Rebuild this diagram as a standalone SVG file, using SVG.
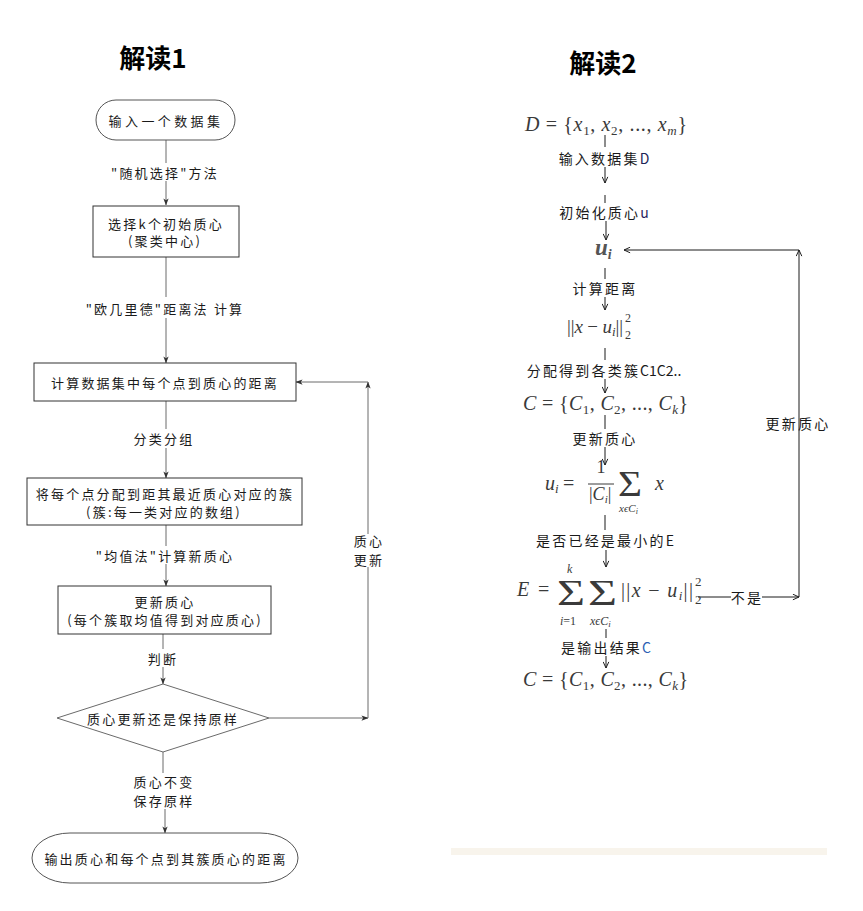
<svg xmlns="http://www.w3.org/2000/svg" width="863" height="911" viewBox="0 0 863 911">
<style>
.t{font-family:"Noto Sans CJK SC","Liberation Sans",sans-serif;font-size:13px;letter-spacing:2.2px;fill:#1a1a1a;text-anchor:middle;dominant-baseline:central}
.r{font-family:"Noto Sans CJK SC","Liberation Sans",sans-serif;font-size:14px;letter-spacing:2.2px;fill:#1a1a1a;text-anchor:middle;dominant-baseline:central}
.lat{letter-spacing:0}
.h{font-family:"Noto Sans CJK SC","Liberation Sans",sans-serif;font-size:26px;font-weight:700;fill:#000;text-anchor:middle}
.m{font-family:"Liberation Serif","DejaVu Serif",serif;font-size:20px;fill:#3a3a3a}
.i{font-style:italic}
.sb{font-size:13px}
.box{fill:#fff;stroke:#333;stroke-width:1}
.term{fill:#fff;stroke:#555;stroke-width:1}
.lc{fill:none;stroke:#6a6a6a;stroke-width:1}
.rc{fill:none;stroke:#1a1a1a;stroke-width:1}
</style>
<defs>
<marker id="al" viewBox="0 0 8 8" refX="7.5" refY="4" markerWidth="7" markerHeight="7" markerUnits="userSpaceOnUse" orient="auto">
<path d="M0,1 L8,4 L0,7 L2,4 z" fill="#333"/>
</marker>
<marker id="ar" viewBox="0 0 8 8" refX="7.5" refY="4" markerWidth="7" markerHeight="7" markerUnits="userSpaceOnUse" orient="auto">
<path d="M0.5,0.8 L7.5,4 L0.5,7.2" fill="none" stroke="#1a1a1a" stroke-width="1.1"/>
</marker>
</defs>
<rect width="863" height="911" fill="#fff"/>

<text class="h" x="153" y="68">解读1</text>
<text class="h" x="603" y="73">解读2</text>

<g id="connectors">
<path class="lc" d="M166,140 V163"/>
<path class="lc" d="M166,181 V205" marker-end="url(#al)"/>
<path class="lc" d="M166,257 V297"/>
<path class="lc" d="M166,318 V363" marker-end="url(#al)"/>
<path class="lc" d="M166,401 V429"/>
<path class="lc" d="M166,448 V478" marker-end="url(#al)"/>
<path class="lc" d="M166,525 V546"/>
<path class="lc" d="M166,564 V586" marker-end="url(#al)"/>
<path class="lc" d="M163,634 V649"/>
<path class="lc" d="M163,667 V684" marker-end="url(#al)"/>
<path class="lc" d="M163,752 V773"/>
<path class="lc" d="M165,809 V833" marker-end="url(#al)"/>
<path class="lc" d="M269,718 H368" marker-end="url(#al)"/>
<path class="lc" d="M368,718 V567"/>
<path class="lc" d="M368,534 V382" marker-end="url(#al)"/>
<path class="lc" d="M368,382 H296" marker-end="url(#al)"/>
<path class="rc" d="M605,135 V147"/>
<path class="rc" d="M605,167 V183" marker-end="url(#ar)"/>
<path class="rc" d="M605,195 V203"/>
<path class="rc" d="M606,221 V240" marker-end="url(#ar)"/>
<path class="rc" d="M605,268 V279"/>
<path class="rc" d="M605,297 V310" marker-end="url(#ar)"/>
<path class="rc" d="M605,348 V360"/>
<path class="rc" d="M605,379 V393" marker-end="url(#ar)"/>
<path class="rc" d="M605,415 V429"/>
<path class="rc" d="M605,447 V465" marker-end="url(#ar)"/>
<path class="rc" d="M605,515 V530"/>
<path class="rc" d="M606,550 V567" marker-end="url(#ar)"/>
<path class="rc" d="M606,629 V638"/>
<path class="rc" d="M606,656 V668" marker-end="url(#ar)"/>
<path class="rc" d="M698,597 H731"/>
<path class="rc" d="M762,597 H799" marker-end="url(#ar)"/>
<path class="rc" d="M799,597 V250" marker-end="url(#ar)"/>
<path class="rc" d="M799,250 H624" marker-end="url(#ar)"/>
</g>

<g id="labels-left">
<text class="t" x="165" y="172">"随机选择"方法</text>
<text class="t" x="165" y="308">"欧几里德"距离法 计算</text>
<text class="t" x="164" y="438">分类分组</text>
<text class="t" x="165" y="555">"均值法"计算新质心</text>
<text class="t" x="163" y="658">判断</text>
<text class="t" x="164" y="781">质心不变</text>
<text class="t" x="164" y="800">保存原样</text>
<text class="t" x="369" y="540">质心</text>
<text class="t" x="369" y="559">更新</text>
</g>

<g id="n-input">
<rect class="term" x="96" y="100" width="139" height="40" rx="20" ry="20"/>
<text class="t" x="166" y="120" style="letter-spacing:3.4px">输入一个数据集</text>
</g>
<g id="n-select">
<rect class="box" x="93" y="206" width="146" height="51"/>
<text class="t" x="166" y="223">选择k个初始质心</text>
<text class="t" x="165" y="240">(聚类中心)</text>
</g>
<g id="n-dist">
<rect class="box" x="34" y="363" width="262" height="38"/>
<text class="t" x="165" y="382">计算数据集中每个点到质心的距离</text>
</g>
<g id="n-assign">
<rect class="box" x="27" y="478" width="275" height="47"/>
<text class="t" x="165" y="493">将每个点分配到距其最近质心对应的簇</text>
<text class="t" x="164" y="511">(簇:每一类对应的数组)</text>
</g>
<g id="n-update">
<rect class="box" x="58" y="586" width="213" height="48"/>
<text class="t" x="165" y="601">更新质心</text>
<text class="t" x="165" y="619">(每个簇取均值得到对应质心)</text>
</g>
<g id="n-decide">
<polygon points="163,684 269,718 163,752 57,718" fill="#fff" stroke="#6a6a6a" stroke-width="1"/>
<text class="t" x="163" y="718">质心更新还是保持原样</text>
</g>
<g id="n-output">
<rect class="term" x="32" y="833" width="266" height="50" rx="38" ry="25"/>
<text class="t" x="166" y="858">输出质心和每个点到其簇质心的距离</text>
</g>

<g id="labels-right">
<text class="r" x="604" y="158">输入数据集<tspan class="lat" fill="#1c2456">D</tspan></text>
<text class="r" x="604" y="212">初始化质心<tspan class="lat" fill="#2a1f5e">u</tspan></text>
<text class="r" x="605" y="288">计算距离</text>
<text class="r" x="604" y="370">分配得到各类簇<tspan class="lat">C1C2..</tspan></text>
<text class="r" x="605" y="438">更新质心</text>
<text class="r" x="605" y="540">是否已经是最小的<tspan class="lat">E</tspan></text>
<text class="r" x="747" y="597">不是</text>
<text class="r" x="606" y="647">是输出结果<tspan class="lat" fill="#2b5fb3">C</tspan></text>
<text class="r" x="798" y="423">更新质心</text>
</g>

<g id="n-D">
<text class="m" x="525" y="131" textLength="162" lengthAdjust="spacing"><tspan class="i">D</tspan> = {<tspan class="i">x</tspan><tspan class="sb" dy="4">1</tspan><tspan dy="-4">, </tspan><tspan class="i">x</tspan><tspan class="sb" dy="4">2</tspan><tspan dy="-4">, ..., </tspan><tspan class="i">x</tspan><tspan class="sb i" dy="4">m</tspan><tspan dy="-4">}</tspan></text>
</g>
<g id="n-ui">
<text class="m" x="595" y="255" style="font-size:23px;font-weight:700;font-style:italic;fill:#555">u<tspan style="font-size:14px" dy="4">i</tspan></text>
</g>
<g id="n-norm">
<text class="m" x="567" y="333" style="font-size:19px" textLength="56" lengthAdjust="spacing">||<tspan class="i">x</tspan> − <tspan class="i">u</tspan><tspan class="sb i" dy="3">i</tspan><tspan dy="-3">||</tspan></text>
<text class="m" x="625" y="322" style="font-size:12px">2</text>
<text class="m" x="625" y="339" style="font-size:12px">2</text>
</g>
<g id="n-C">
<text class="m" x="523" y="410" textLength="165" lengthAdjust="spacing"><tspan class="i">C</tspan> = {<tspan class="i">C</tspan><tspan class="sb" dy="4">1</tspan><tspan dy="-4">, </tspan><tspan class="i">C</tspan><tspan class="sb" dy="4">2</tspan><tspan dy="-4">, ..., </tspan><tspan class="i">C</tspan><tspan class="sb i" dy="4">k</tspan><tspan dy="-4">}</tspan></text>
</g>
<g id="n-mean">
<text class="m" x="545" y="490"><tspan class="i">u</tspan><tspan class="sb i" dy="3">i</tspan></text>
<text class="m" x="563" y="490">=</text>
<text class="m" x="601" y="473" style="font-size:18px;text-anchor:middle">1</text>
<line x1="588" y1="484" x2="614" y2="484" stroke="#3a3a3a" stroke-width="1"/>
<text class="m" x="589" y="500" style="font-size:18px">|<tspan class="i">C</tspan><tspan class="i" style="font-size:11px" dy="3">i</tspan><tspan dy="-3">|</tspan></text>
<text class="m" x="618" y="496" style="font-size:36px" textLength="24" lengthAdjust="spacingAndGlyphs">Σ</text>
<text class="m i" x="619" y="512" style="font-size:11px">xϵC<tspan style="font-size:8px" dy="2">i</tspan></text>
<text class="m i" x="655" y="490">x</text>
</g>
<g id="n-E">
<text class="m i" x="517" y="596">E</text>
<text class="m" x="538" y="596">=</text>
<text class="m i" x="567" y="573" style="font-size:12px">k</text>
<text class="m" x="557" y="605" style="font-size:36px" textLength="28" lengthAdjust="spacingAndGlyphs">Σ</text>
<text class="m" x="560" y="625" style="font-size:12px"><tspan class="i">i</tspan>=1</text>
<text class="m" x="588" y="605" style="font-size:36px" textLength="29" lengthAdjust="spacingAndGlyphs">Σ</text>
<text class="m i" x="590" y="625" style="font-size:12px">xϵC<tspan style="font-size:9px" dy="2">i</tspan></text>
<text class="m" x="621" y="597" textLength="72" lengthAdjust="spacing">||<tspan class="i">x</tspan> − <tspan class="i">u</tspan><tspan class="sb i" dy="3">i</tspan><tspan dy="-3">||</tspan></text>
<text class="m" x="695" y="586" style="font-size:13px">2</text>
<text class="m" x="695" y="604" style="font-size:13px">2</text>
</g>
<g id="n-Cout">
<text class="m" x="523" y="686" textLength="165" lengthAdjust="spacing"><tspan class="i">C</tspan> = {<tspan class="i">C</tspan><tspan class="sb" dy="4">1</tspan><tspan dy="-4">, </tspan><tspan class="i">C</tspan><tspan class="sb" dy="4">2</tspan><tspan dy="-4">, ..., </tspan><tspan class="i">C</tspan><tspan class="sb i" dy="4">k</tspan><tspan dy="-4">}</tspan></text>
</g>
<rect x="451" y="848" width="376" height="7" fill="#f8f4ec"/>
</svg>
